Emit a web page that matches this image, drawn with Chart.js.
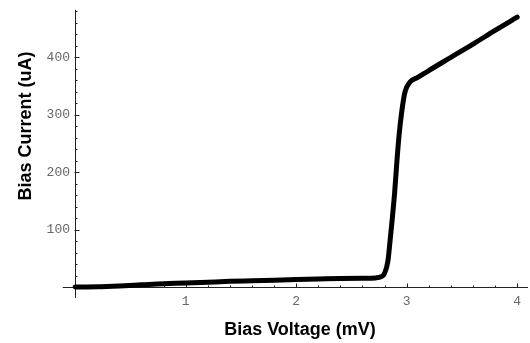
<!DOCTYPE html>
<html>
<head>
<meta charset="utf-8">
<title>Bias Current vs Bias Voltage</title>
<script src="https://cdn.jsdelivr.net/npm/chart.js@4/dist/chart.umd.min.js"></script>
<style>
  body { margin: 0; background: #fff; }
  canvas { display: block; }
</style>
</head>
<body>
<canvas id="ivChart" width="530" height="343"></canvas>
<script>
// IV curve
const voltage = [0, 0.2, 0.4, 0.6, 0.8, 1.0, 1.2, 1.4, 1.6, 1.8, 2.0, 2.2, 2.4, 2.6, 2.72,
                 2.77, 2.8, 2.83, 2.85, 2.87, 2.89, 2.91, 2.93, 2.955, 2.985, 3.03,
                 3.1, 3.2, 3.4, 3.6, 3.8, 4.0];
const current = [0, 0.5, 2, 4, 6, 7, 8.5, 10, 11, 12, 13, 14, 15, 15.5, 16,
                 18, 24, 45, 81, 120, 162, 215, 262, 305, 340, 357,
                 365, 377, 400, 423, 447, 470];
const xTicks = [1, 2, 3, 4];
const yTicks = [100, 200, 300, 400];

const tickFont = { family: "'Liberation Mono', 'DejaVu Sans Mono', monospace", size: 13 };
const titleFont = "bold 18px 'Liberation Sans', Arial, sans-serif";

// Mathematica-style axes crossing at the origin, ticks pointing inward
const axesPlugin = {
    id: 'axes',
    beforeDatasetsDraw(chart) {
        const { ctx, scales: { x, y } } = chart;
        const x0 = Math.round(x.getPixelForValue(0)) + 0.5;
        const y0 = Math.round(y.getPixelForValue(0)) + 0.5;
        ctx.save();
        ctx.strokeStyle = '#222';
        ctx.lineWidth = 1;
        ctx.beginPath();
        ctx.moveTo(x.getPixelForValue(-0.113), y0);
        ctx.lineTo(x.right, y0);
        ctx.moveTo(x0, y.getPixelForValue(-19));
        ctx.lineTo(x0, y.top);
        for (let i = 1; i <= 20; i++) {
            const v = i * 0.2;
            const px = Math.round(x.getPixelForValue(v)) + 0.5;
            ctx.moveTo(px, y0);
            ctx.lineTo(px, y0 - (i % 5 === 0 ? 4 : 2));
        }
        for (let i = 1; i <= 24; i++) {
            const v = i * 20;
            const py = Math.round(y.getPixelForValue(v)) + 0.5;
            ctx.moveTo(x0 - (i % 5 === 0 ? 1 : 0), py);
            ctx.lineTo(x0 + (i % 5 === 0 ? 4 : 2), py);
        }
        ctx.stroke();
        ctx.restore();
    },
    afterDraw(chart) {
        const ctx = chart.ctx;
        ctx.save();
        ctx.fillStyle = '#000';
        ctx.font = titleFont;
        ctx.textAlign = 'center';
        ctx.textBaseline = 'middle';
        ctx.translate(26, 126);
        ctx.rotate(-Math.PI / 2);
        ctx.fillText('Bias Current (uA)', 0, 0);
        ctx.restore();
    }
};

new Chart(document.getElementById('ivChart'), {
    type: 'line',
    data: {
        datasets: [{
            data: voltage.map((v, i) => ({ x: v, y: current[i] })),
            borderColor: '#000',
            borderWidth: 5,
            borderCapStyle: 'round',
            borderJoinStyle: 'round',
            cubicInterpolationMode: 'monotone',
            pointRadius: 0,
            fill: false,
            clip: false
        }]
    },
    options: {
        responsive: false,
        animation: false,
        layout: { padding: { top: 7, right: 2, bottom: 0, left: 0 } },
        plugins: { legend: { display: false }, tooltip: { enabled: false } },
        scales: {
            x: {
                type: 'linear',
                min: -0.029,
                max: 4.098,
                afterFit: s => { s.height = 50; },
                afterBuildTicks: s => { s.ticks = xTicks.map(v => ({ value: v })); },
                grid: { display: false, drawTicks: false },
                border: { display: false },
                ticks: { font: tickFont, color: '#666', padding: 1, maxRotation: 0 },
                title: {
                    display: true,
                    text: 'Bias Voltage (mV)',
                    color: '#000',
                    font: { family: "'Liberation Sans', Arial, sans-serif", size: 18, weight: 'bold' },
                    padding: { top: 0, bottom: 2 }
                }
            },
            y: {
                type: 'linear',
                min: -10.3,
                max: 482.8,
                afterFit: s => { s.width = 72; },
                afterBuildTicks: s => { s.ticks = yTicks.map(v => ({ value: v })); },
                grid: { display: false, drawTicks: false },
                border: { display: false },
                ticks: { font: tickFont, color: '#666', padding: 2 }
            }
        }
    },
    plugins: [axesPlugin]
});
</script>
</body>
</html>
